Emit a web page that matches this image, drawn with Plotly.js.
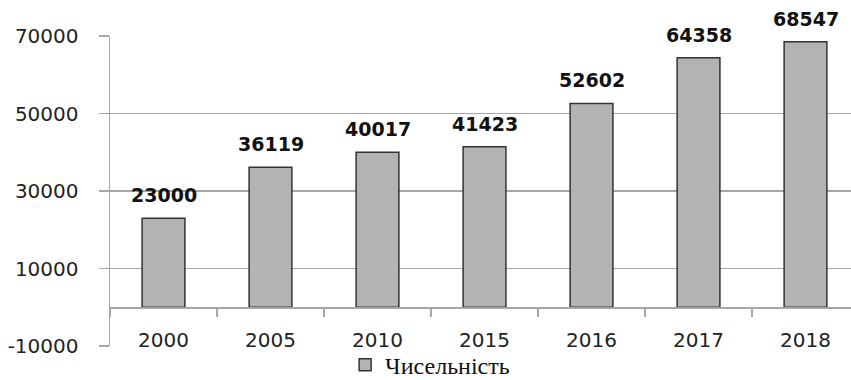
<!DOCTYPE html>
<html><head><meta charset="utf-8">
<script src="https://cdn.plot.ly/plotly-3.0.1.min.js"></script>
<style>html,body{margin:0;padding:0;background:#fff}#c{width:851px;height:380px}</style>
</head><body><div id="c"></div>
<script>
const categories = ["2000","2005","2010","2015","2016","2017","2018"];
const values = [23000, 36119, 40017, 41423, 52602, 64358, 68547];
const seriesName = "Чисельність";
const yTicks = [-10000, 10000, 30000, 50000, 70000];

const trace = {
  type: 'bar', x: categories, y: values, name: seriesName,
  marker: {color: '#b3b3b3', line: {color: '#333333', width: 1.5}},
  width: 0.4, hoverinfo: 'none'
};
const annotations = categories.map((c, i) => ({
  x: i, y: values[i], xref: 'x', yref: 'y', text: '<b>' + values[i] + '</b>',
  showarrow: false, yanchor: 'bottom', yshift: 10,
  font: {family: 'DejaVu Sans', size: 19, color: '#111'}
}));
const layout = {
  width: 851, height: 380,
  margin: {l: 110, r: 0, t: 36, b: 34, autoexpand: false},
  paper_bgcolor: '#fff', plot_bgcolor: '#fff',
  showlegend: true,
  legend: {orientation: 'h', x: 0.432, xanchor: 'center', xref: 'paper',
           y: -0.062, yanchor: 'middle', bgcolor: 'rgba(0,0,0,0)',
           font: {family: 'Liberation Serif', size: 24, color: '#111'}, itemwidth: 30},
  xaxis: {type: 'category', range: [-0.5, 6.425], anchor: 'free', position: 0.1258,
          showline: true, linecolor: '#a6a6a6', linewidth: 1.5,
          ticks: 'outside', tickson: 'boundaries', ticklen: 8, tickcolor: '#a6a6a6', tickwidth: 1.5,
          showgrid: false, ticklabelstandoff: 14,
          tickfont: {family: 'DejaVu Sans', size: 20, color: '#222'}},
  yaxis: {range: [-10000, 70000], tickvals: yTicks, ticktext: yTicks.map(String),
          showgrid: true, gridcolor: '#a6a6a6', gridwidth: 1.5, zeroline: false,
          showline: true, linecolor: '#a6a6a6', linewidth: 1.5,
          ticks: 'outside', ticklen: 10, tickcolor: '#a6a6a6', tickwidth: 1.5,
          ticklabelstandoff: 16,
          tickfont: {family: 'DejaVu Sans', size: 20, color: '#222'}},
  annotations: annotations
};
Plotly.newPlot('c', [trace], layout, {displayModeBar: false, staticPlot: true});
</script></body></html>
